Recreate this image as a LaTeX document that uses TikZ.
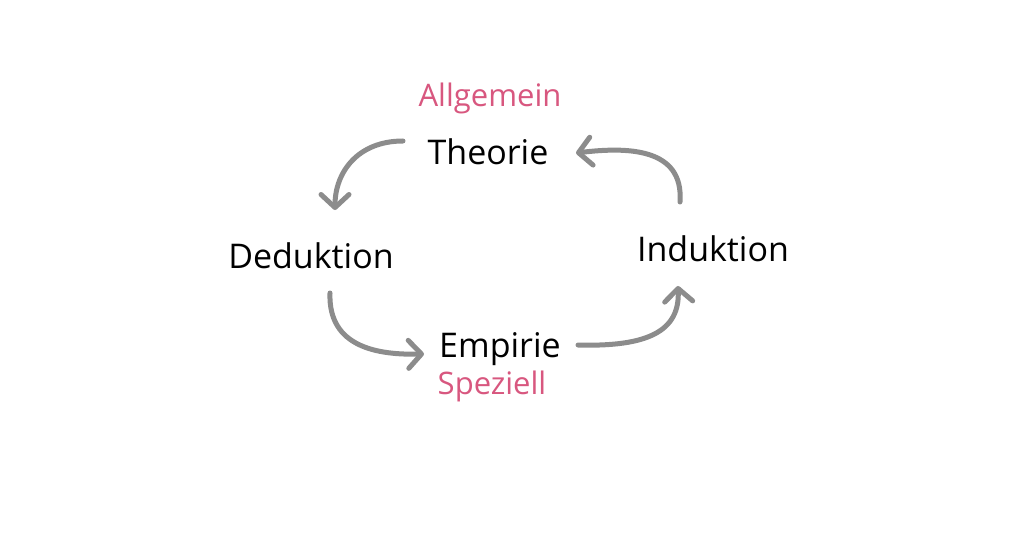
\documentclass[tikz,border=0pt]{standalone}
\usepackage{fontspec}
\setmainfont{Open Sans}
\usetikzlibrary{arrows.meta}
\definecolor{arrgray}{HTML}{8C8C8C}
\definecolor{pinkish}{HTML}{D8577F}
\tikzset{
  word/.style={inner sep=0pt, text=black, font=\fontsize{17pt}{20pt}\selectfont},
  tag/.style={inner sep=0pt, text=pinkish, font=\fontsize{15.5pt}{18pt}\selectfont},
  arr/.style={draw=arrgray, line width=2.5pt, line cap=round,
    -{Straight Barb[length=6.5pt, width=14pt, round]}}
}
\begin{document}
\begin{tikzpicture}[x=0.5pt, y=-0.5pt]
\fill[white] (0,0) rectangle (1024,540);
\useasboundingbox (0,0) rectangle (1024,540);
\node[word] (theo) at (488,152) {Theorie};
\node[tag]  (allg) at (490,98) {Allgemein};
\node[word] (ded)  at (311,256) {Deduktion};
\node[word] (ind)  at (713,249) {Induktion};
\node[word] (emp)  at (500,349) {Empirie};
\node[tag]  (spez) at (492,386) {Speziell};
\draw[arr] ([shift={(-85,-11)}]theo.center) .. controls +(-45,0) and +(0,-38) .. ([shift={(24,-46)}]ded.center);
\draw[arr] ([shift={(19,37)}]ded.center) .. controls +(-2,55) and +(-45,1) .. ([shift={(-76,5)}]emp.center);
\draw[arr] ([shift={(78,-4)}]emp.center) .. controls +(70,2) and +(2,45) .. ([shift={(-35,37)}]ind.center);
\draw[arr] ([shift={(-33,-47)}]ind.center) .. controls +(4,-55) and +(50,-6) .. ([shift={(88,1)}]theo.center);
\end{tikzpicture}
\end{document}
